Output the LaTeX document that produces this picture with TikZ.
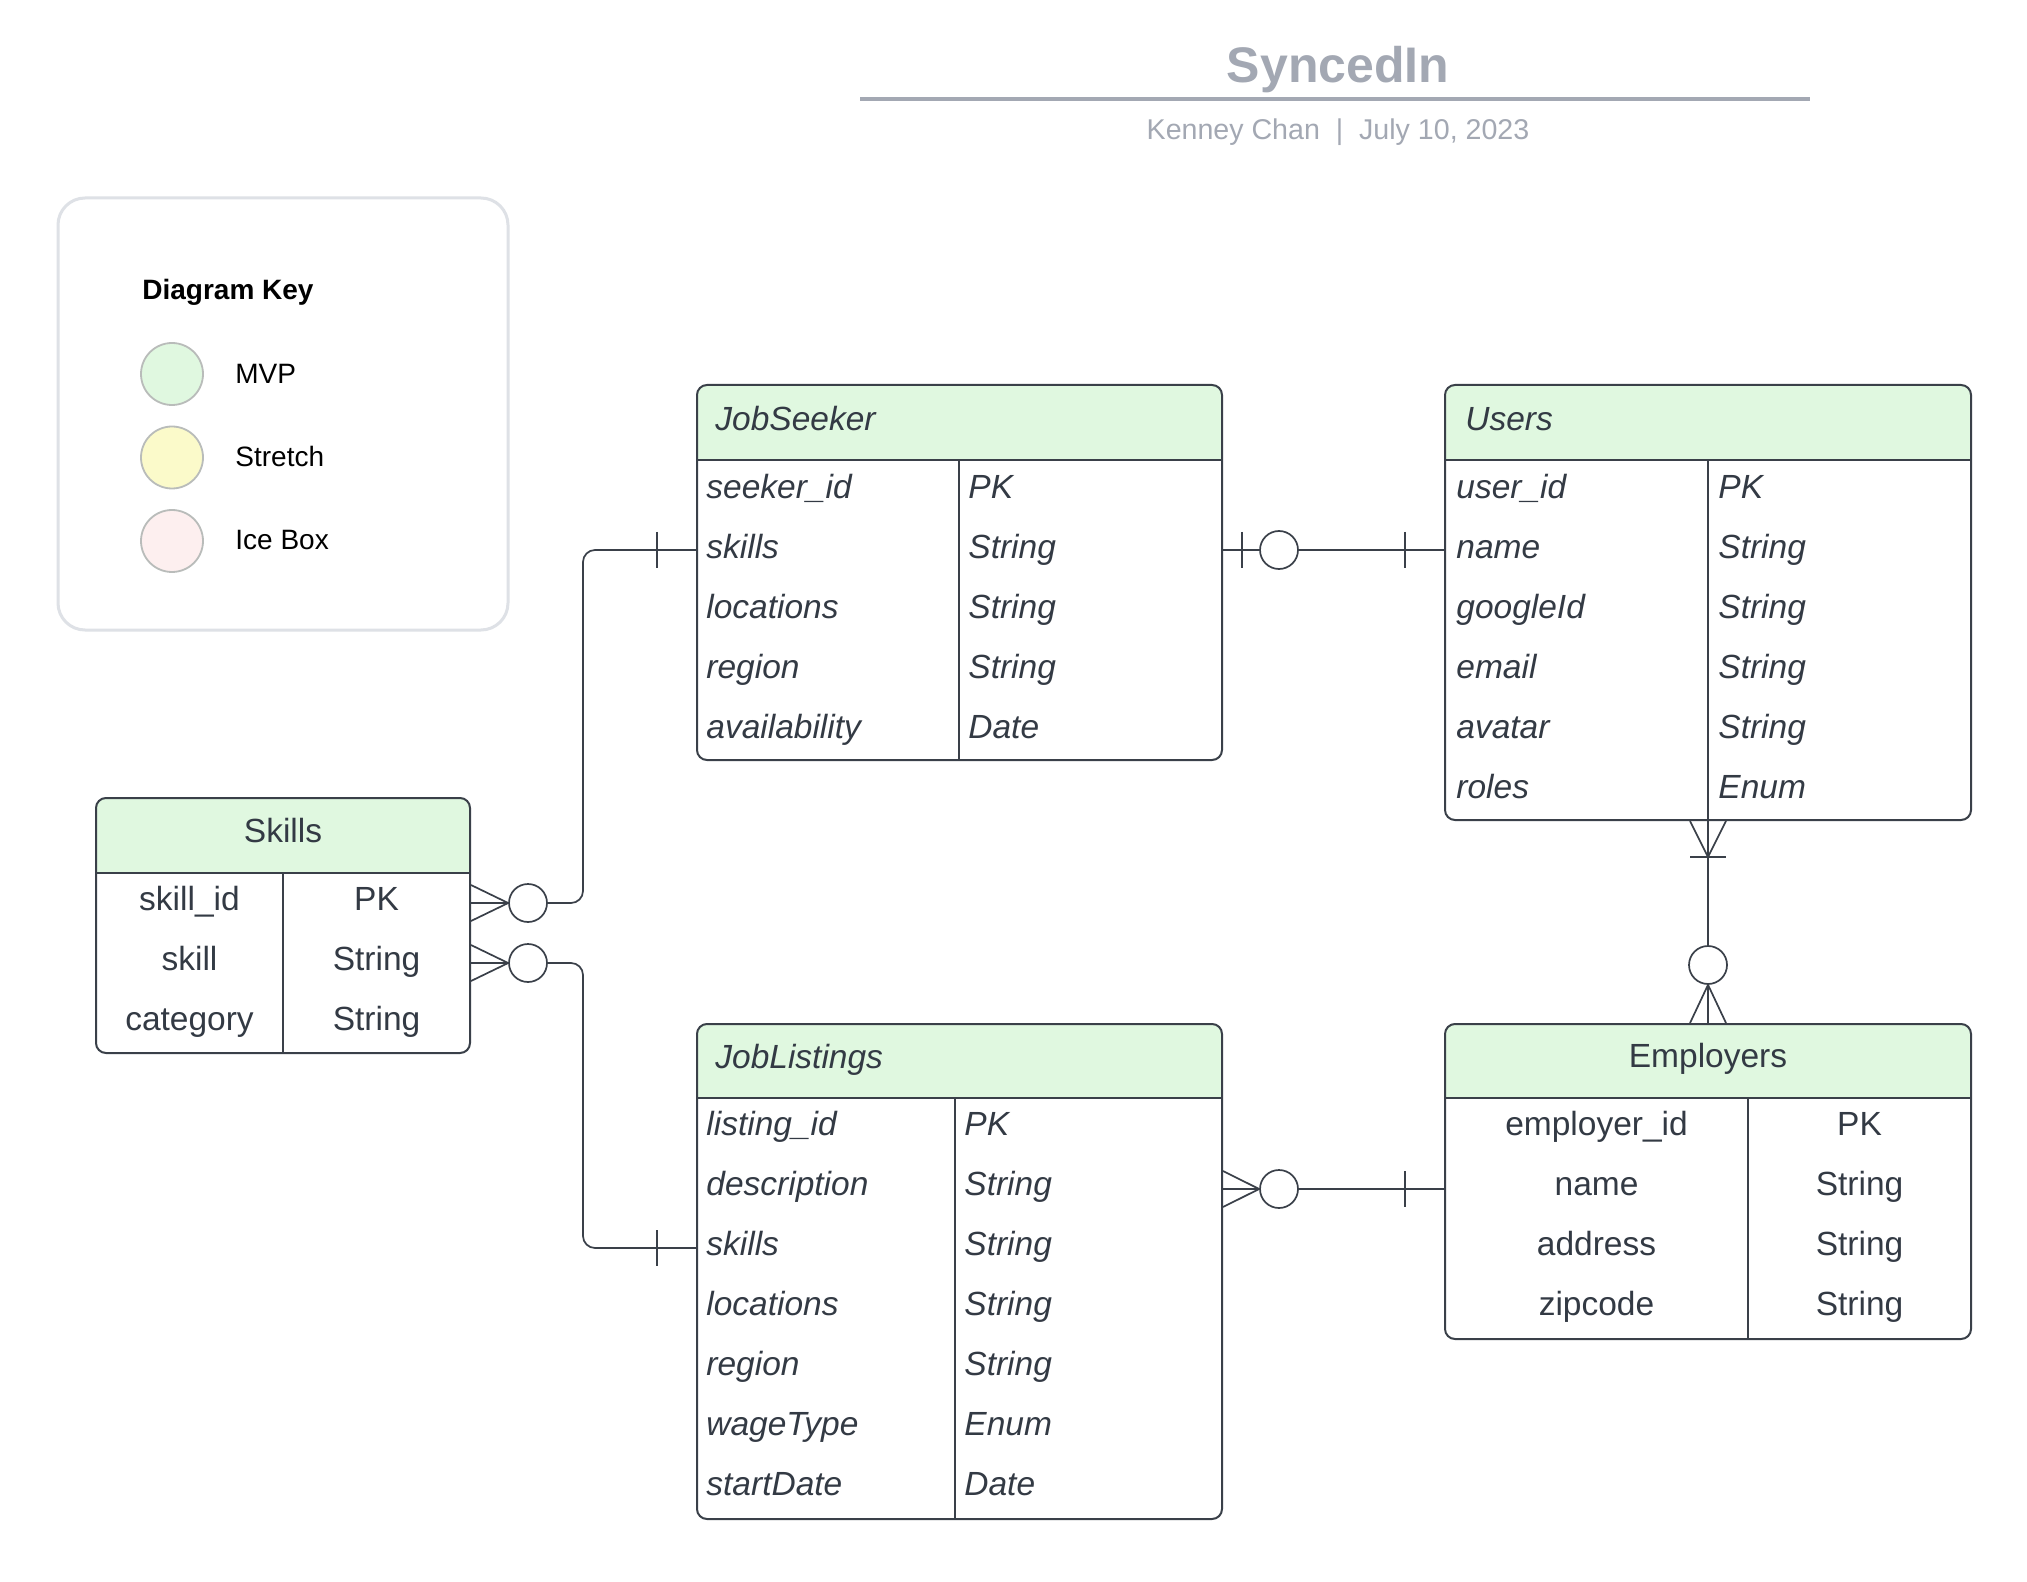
\documentclass[tikz,border=0pt]{standalone}
\usepackage{fontspec}
\setmainfont{Liberation Sans}
\usetikzlibrary{fit}
\definecolor{hdrfill}{HTML}{E0F8E0}
\definecolor{tline}{HTML}{3A4049}
\definecolor{ttext}{HTML}{333A44}
\definecolor{ttl}{HTML}{A3A8B3}
\definecolor{keyline}{HTML}{DEE1E6}
\definecolor{mvp}{HTML}{E0F8E0}
\definecolor{stretch}{HTML}{FBFACA}
\definecolor{icebox}{HTML}{FDEFEF}
\definecolor{keycirc}{HTML}{B9BCBA}
\newcommand{\erTable}[7]{%
  \begin{scope}
    \clip[rounded corners=5pt] (#2,#3) rectangle (#4,#5);
    \fill[hdrfill] (#2,#3) rectangle (#4,#6);
  \end{scope}
  \draw[tline, line width=1pt] (#2,#6) -- (#4,#6);
  \draw[tline, line width=1pt] (#7,#6) -- (#7,#5);
  \node[tblbox, fit={(#2,#3) (#4,#5)}] (#1) {};
}
\begin{document}
\begin{tikzpicture}[x=0.5pt, y=-0.5pt,
  tblbox/.style={rectangle, draw=tline, line width=1pt, rounded corners=5pt, inner sep=0pt},
  rowtxt/.style={font=\fontsize{16.75}{20}\selectfont\itshape, text=ttext, inner sep=0pt, anchor=mid west, yshift=-1.5pt},
  rowc/.style={font=\fontsize{16.75}{20}\selectfont, text=ttext, inner sep=0pt, anchor=mid, yshift=-1.5pt},
  conn/.style={draw=tline, line width=0.85pt},
  ercirc/.style={circle, draw=tline, line width=0.85pt, fill=white, minimum size=19pt, inner sep=0pt},
  keydot/.style={circle, draw=keycirc, line width=0.9pt, minimum size=31pt, inner sep=0pt},
  keylbl/.style={font=\fontsize{14}{17}\selectfont, anchor=base west, inner sep=0pt}]
\fill[white] (0,0) rectangle (2027,1582);
\useasboundingbox (0,0) rectangle (2027,1582);

% title
\node[font=\fontsize{25}{30}\selectfont\bfseries, text=ttl, anchor=base, inner sep=0pt] (title) at (1338,83) {SyncedIn};
\draw[ttl, line width=2pt] (860,99.5) -- (1810,99.5);
\node[font=\fontsize{14.3}{17}\selectfont, text=ttl, anchor=base, inner sep=0pt] (subtitle) at (1338,139.5) {Kenney Chan\ \ |\ \ July 10, 2023};

% legend
\node[draw=keyline, line width=1.5pt, rounded corners=13.5pt, minimum width=225pt, minimum height=216pt, inner sep=0pt] (keybox) at (283,414) {};
\node[font=\fontsize{14}{17}\selectfont\bfseries, anchor=base west, inner sep=0pt] (keytitle) at (142,299.5) {Diagram Key};
\node[keydot, fill=mvp] (kmvp) at (172,374) {};
\node[keydot, fill=stretch] (kstr) at (172,457.5) {};
\node[keydot, fill=icebox] (kice) at (172,541) {};
\node[keylbl] (lmvp) at (235,383.5) {MVP};
\node[keylbl] (lstr) at (235,466.5) {Stretch};
\node[keylbl] (lice) at (235,549.5) {Ice Box};

% tables
\erTable{js}{697}{385}{1222}{760}{460}{959}
\erTable{us}{1445}{385}{1971}{820}{460}{1708}
\erTable{sk}{96}{798}{470}{1053}{873}{283}
\erTable{jl}{697}{1024}{1222}{1519}{1098}{955}
\erTable{em}{1445}{1024}{1971}{1339}{1098}{1748}

\node[rowtxt] (jsh) at (715,422.5) {JobSeeker};
\node[rowtxt] (ush) at (1465,422.5) {Users};
\node[rowc] (skh) at (283,834) {Skills};
\node[rowtxt] (jlh) at (715,1060.5) {JobListings};
\node[rowc] (emh) at (1708,1059) {Employers};

\foreach \n/\t [count=\i] in {seeker\_id/PK, skills/String, locations/String, region/String, availability/Date}{
  \node[rowtxt] (js-n\i) at (706,430+60*\i) {\n};
  \node[rowtxt] (js-t\i) at (968,430+60*\i) {\t};
}
\foreach \n/\t [count=\i] in {user\_id/PK, name/String, googleId/String, email/String, avatar/String, roles/Enum}{
  \node[rowtxt] (us-n\i) at (1456,430+60*\i) {\n};
  \node[rowtxt] (us-t\i) at (1718,430+60*\i) {\t};
}
\foreach \n/\t [count=\i] in {skill\_id/PK, skill/String, category/String}{
  \node[rowc] (sk-n\i) at (189.5,842+60*\i) {\n};
  \node[rowc] (sk-t\i) at (376.5,842+60*\i) {\t};
}
\foreach \n/\t [count=\i] in {listing\_id/PK, description/String, skills/String, locations/String, region/String, wageType/Enum, startDate/Date}{
  \node[rowtxt] (jl-n\i) at (706,1067+60*\i) {\n};
  \node[rowtxt] (jl-t\i) at (964,1067+60*\i) {\t};
}
\foreach \n/\t [count=\i] in {employer\_id/PK, name/String, address/String, zipcode/String}{
  \node[rowc] (em-n\i) at (1596.5,1067+60*\i) {\n};
  \node[rowc] (em-t\i) at (1859.5,1067+60*\i) {\t};
}

% row centres (text is set a few px low)
\path (sk-n1.mid) ++(0,-2) coordinate (m1);
\path (js-n2.mid) ++(0,-3) coordinate (m2);
\path (sk-n2.mid) ++(0,-2) coordinate (m3);
\path (jl-n3.mid) ++(0,-2) coordinate (m4);
\path (us-n2.mid) ++(0,-3) coordinate (m5);
\path (jl-n2.mid) ++(0,-1) coordinate (m6);
\path (em-n2.mid) ++(0,-1) coordinate (m7);

% connectors
\coordinate (busL) at (583,0);

% Skills -- JobSeeker
\coordinate (a1) at (sk.east |- m1);
\coordinate (b1) at (js.west |- m2);
\node[ercirc] (c1) at ([xshift=28.5pt]a1) {};
\draw[conn] ([yshift=9pt]a1) -- (c1.west) -- ([yshift=-9pt]a1);
\draw[conn] (a1) -- (c1.west);
\draw[conn, rounded corners=6pt] (c1.east) -- (c1.east -| busL) -- (busL |- b1) -- (b1);
\draw[conn] ([xshift=-19.5pt,yshift=9pt]b1) -- ([xshift=-19.5pt,yshift=-9pt]b1);

% Skills -- JobListings
\coordinate (a2) at (sk.east |- m3);
\coordinate (b2) at (jl.west |- m4);
\node[ercirc] (c2) at ([xshift=28.5pt]a2) {};
\draw[conn] ([yshift=9pt]a2) -- (c2.west) -- ([yshift=-9pt]a2);
\draw[conn] (a2) -- (c2.west);
\draw[conn, rounded corners=6pt] (c2.east) -- (c2.east -| busL) -- (busL |- b2) -- (b2);
\draw[conn] ([xshift=-19.5pt,yshift=9pt]b2) -- ([xshift=-19.5pt,yshift=-9pt]b2);

% JobSeeker -- Users
\coordinate (a3) at (js.east |- m2);
\coordinate (b3) at (us.west |- m5);
\node[ercirc] (c3) at ([xshift=28pt]a3) {};
\draw[conn] (a3) -- (c3.west);
\draw[conn] (c3.east) -- (b3);
\draw[conn] ([xshift=9.5pt,yshift=9pt]a3) -- ([xshift=9.5pt,yshift=-9pt]a3);
\draw[conn] ([xshift=-19.5pt,yshift=9pt]b3) -- ([xshift=-19.5pt,yshift=-9pt]b3);

% Users -- Employers
\node[ercirc] (c4) at ([yshift=-72pt]us.south) {};
\draw[conn] ([xshift=-9pt]us.south) -- ([yshift=-18pt]us.south) -- ([xshift=9pt]us.south);
\draw[conn] ([xshift=-9pt,yshift=-18pt]us.south) -- ([xshift=9pt,yshift=-18pt]us.south);
\draw[conn] (us.south) -- (c4.north);
\draw[conn] ([xshift=-9pt]em.north) -- (c4.south) -- ([xshift=9pt]em.north);
\draw[conn] (c4.south) -- (em.north);

% JobListings -- Employers
\coordinate (a5) at (jl.east |- m6);
\coordinate (b5) at (em.west |- m7);
\node[ercirc] (c5) at ([xshift=28pt]a5) {};
\draw[conn] ([yshift=9pt]a5) -- (c5.west) -- ([yshift=-9pt]a5);
\draw[conn] (a5) -- (c5.west);
\draw[conn] (c5.east) -- (b5);
\draw[conn] ([xshift=-19.5pt,yshift=9pt]b5) -- ([xshift=-19.5pt,yshift=-9pt]b5);
\end{tikzpicture}
\end{document}
